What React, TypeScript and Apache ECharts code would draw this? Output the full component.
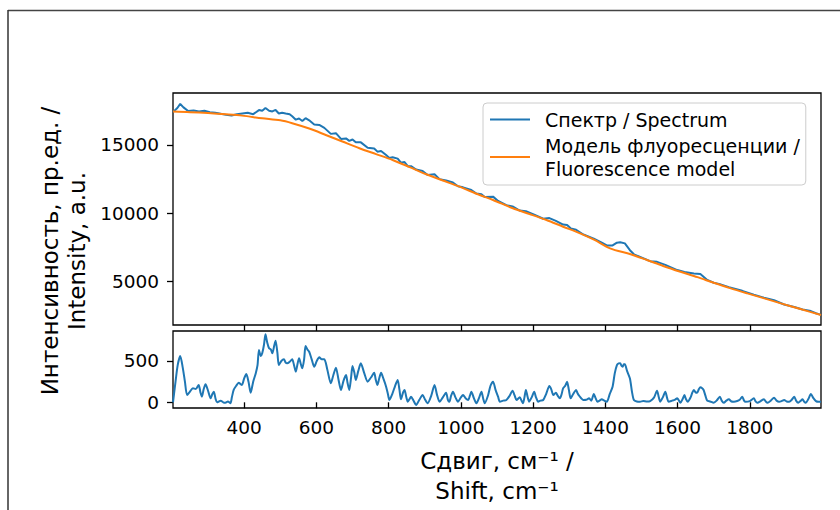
import React, { useEffect, useRef } from "react";
import * as echarts from "echarts";

// Top panel: measured spectrum
const spectrumShift = [203, 215, 223, 232, 245, 260, 275, 290, 305, 320, 335, 350, 365, 380, 395, 410, 425, 441, 450, 459, 469, 478, 487, 496, 505, 515, 526, 533, 543, 552, 561, 570, 580, 594, 608, 622, 640, 654, 668, 682, 691, 700, 709, 723, 742, 760, 769, 779, 793, 802, 811, 825, 834, 844, 853, 862, 876, 894, 908, 927, 941, 959, 978, 992, 1006, 1029, 1043, 1057, 1066, 1089, 1103, 1126, 1143, 1163, 1180, 1203, 1228, 1245, 1263, 1283, 1294, 1304, 1319, 1339, 1368, 1390, 1404, 1420, 1432, 1441, 1454, 1468, 1479, 1524, 1543, 1566, 1599, 1619, 1645, 1663, 1682, 1700, 1717, 1742, 1779, 1811, 1839, 1867, 1895, 1923, 1946, 1969, 1983, 1997];
const spectrumIntensity = [17400, 17700, 18000, 17750, 17480, 17520, 17450, 17500, 17400, 17350, 17280, 17200, 17150, 17250, 17300, 17350, 17250, 17550, 17500, 17700, 17500, 17450, 17560, 17300, 17350, 17300, 17250, 17100, 16850, 16930, 16750, 16960, 16800, 16490, 16460, 16250, 15810, 15860, 15440, 15480, 15300, 15400, 15200, 15190, 14790, 14740, 14510, 14560, 14260, 14050, 14100, 14000, 13700, 13750, 13450, 13450, 13200, 13100, 12800, 12850, 12500, 12400, 12250, 11980, 11900, 11700, 11450, 11400, 11200, 11220, 10900, 10600, 10500, 10200, 10150, 9900, 9600, 9650, 9450, 9180, 9150, 8900, 8800, 8450, 8150, 7850, 7650, 7650, 7850, 7880, 7800, 7300, 7000, 6500, 6450, 6230, 5850, 5710, 5600, 5560, 5130, 4920, 4820, 4600, 4330, 4040, 3830, 3640, 3330, 3150, 2960, 2850, 2690, 2570];

// Top panel: fluorescence model
const modelShift = [203, 250, 300, 350, 394, 450, 500, 533, 580, 626, 672, 719, 765, 811, 858, 904, 950, 996, 1052, 1089, 1144, 1190, 1237, 1283, 1330, 1370, 1413, 1470, 1515, 1560, 1608, 1655, 1700, 1745, 1793, 1840, 1886, 1940, 1997];
const modelIntensity = [17440, 17400, 17330, 17240, 17145, 16950, 16800, 16590, 16200, 15730, 15250, 14760, 14330, 13900, 13380, 12855, 12400, 11950, 11340, 10975, 10366, 9950, 9510, 9020, 8536, 8050, 7438, 7000, 6582, 6150, 5725, 5330, 4920, 4530, 4145, 3780, 3410, 3000, 2556];

// Bottom panel: residual (spectrum minus model)
const residualShift = [203, 210, 216, 223, 230, 236, 242, 250, 258, 266, 274, 279, 283, 288, 293, 300, 307, 312, 316, 321, 325, 335, 342, 348, 355, 362, 366, 371, 378, 385, 390, 394, 400, 406, 412, 418, 425, 432, 437, 441, 446, 450, 455, 459, 464, 469, 474, 478, 483, 487, 492, 496, 503, 510, 515, 519, 526, 533, 538, 543, 548, 552, 557, 561, 566, 570, 575, 580, 587, 594, 601, 608, 615, 622, 630, 640, 647, 654, 661, 668, 675, 682, 686, 691, 696, 700, 705, 709, 716, 723, 732, 742, 751, 760, 764, 769, 774, 779, 786, 793, 798, 802, 810, 818, 825, 830, 834, 840, 844, 849, 853, 858, 862, 869, 876, 885, 894, 900, 908, 918, 927, 934, 941, 950, 959, 964, 968, 973, 978, 985, 992, 1000, 1006, 1013, 1020, 1025, 1029, 1036, 1043, 1050, 1057, 1062, 1066, 1075, 1082, 1089, 1096, 1103, 1108, 1117, 1126, 1135, 1143, 1149, 1154, 1163, 1168, 1172, 1176, 1180, 1185, 1189, 1196, 1203, 1208, 1214, 1220, 1228, 1236, 1245, 1250, 1256, 1263, 1268, 1274, 1279, 1283, 1289, 1294, 1299, 1304, 1311, 1319, 1323, 1328, 1333, 1339, 1347, 1355, 1361, 1368, 1373, 1378, 1384, 1390, 1397, 1404, 1412, 1420, 1426, 1432, 1437, 1441, 1445, 1448, 1451, 1454, 1460, 1468, 1474, 1479, 1487, 1496, 1505, 1515, 1524, 1535, 1543, 1548, 1552, 1559, 1566, 1571, 1575, 1585, 1592, 1599, 1608, 1614, 1619, 1623, 1628, 1636, 1641, 1645, 1650, 1654, 1659, 1663, 1668, 1672, 1677, 1682, 1690, 1700, 1708, 1717, 1722, 1728, 1735, 1742, 1749, 1756, 1765, 1772, 1779, 1784, 1788, 1800, 1811, 1816, 1821, 1830, 1839, 1844, 1849, 1858, 1867, 1874, 1881, 1888, 1895, 1902, 1909, 1916, 1923, 1928, 1934, 1940, 1946, 1950, 1955, 1962, 1969, 1976, 1983, 1990, 1997];
const residualValue = [0, 250, 450, 560, 420, 250, 88, 130, 170, 160, 210, 120, 68, 160, 218, 140, 48, 100, 128, 40, 0, 20, 0, -5, 10, -10, 60, 150, 200, 237, 220, 210, 290, 342, 250, 116, 250, 350, 450, 633, 560, 593, 700, 823, 720, 653, 640, 593, 680, 745, 600, 451, 500, 520, 480, 472, 490, 520, 450, 370, 470, 532, 460, 411, 520, 681, 640, 612, 520, 431, 500, 544, 520, 520, 400, 230, 330, 419, 280, 149, 260, 330, 240, 149, 300, 439, 360, 270, 380, 472, 360, 250, 300, 358, 280, 210, 290, 358, 280, 189, 100, 28, 100, 200, 270, 150, 36, 120, 150, 60, 7, 40, 68, 20, -33, 30, 88, 40, -12, 80, 210, 90, 7, 60, 116, 30, 7, 80, 128, 60, 7, 60, 88, 50, 28, 80, 128, 50, -12, 50, 128, 40, -12, 80, 200, 250, 150, 68, 7, 20, 28, 80, 141, 80, 28, 60, 20, -12, 60, 149, 60, 7, 60, 128, 60, 7, 20, 28, 100, 197, 160, 88, 116, 80, 48, 100, 169, 200, 250, 150, 48, 100, 149, 110, 76, 50, 28, 30, 48, 20, 100, 50, 7, 20, 36, 20, 7, 100, 189, 350, 451, 470, 472, 440, 431, 460, 460, 380, 289, 120, 28, 10, 7, 15, 10, 15, 60, 141, 60, 7, 60, 128, 50, 7, 20, 30, 48, -5, 40, 88, 40, 7, 60, 120, 149, 120, 116, 160, 181, 170, 149, 80, 20, 10, -5, 20, 68, 20, -5, 20, 36, 10, 7, 15, 30, 68, 20, 7, 15, 48, 10, -5, 15, 36, 10, -5, 20, 56, 20, 7, 15, 28, 10, 7, 30, 68, 20, -5, 15, 36, 10, -5, 40, 100, 50, 15, 7, 7];

const xTicks = [400, 600, 800, 1000, 1200, 1400, 1600, 1800];
const topYTicks = [5000, 10000, 15000];
const bottomYTicks = [0, 500];

const seriesNames = ["Спектр / Spectrum", "Модель флуоресценции /\nFluorescence model"];
const xAxisTitle = "Сдвиг, см⁻¹ /\nShift, cm⁻¹";
const yAxisTitleLines = ["Интенсивность, пр.ед. /", "Intensity, a.u."];

const FONT = "DejaVu Sans";

export default function App() {
  const ref = useRef<HTMLDivElement>(null);

  useEffect(() => {
    if (!ref.current) return;
    const chart = echarts.init(ref.current, undefined, { renderer: "svg" });
    const zip = (xs: number[], ys: number[]) => xs.map((x, i) => [x, ys[i]]);

    const tickStyle = { show: true, inside: false, length: 6, lineStyle: { color: "#000", width: 1.3 } };
    const labelStyle = { color: "#000", fontFamily: FONT, fontSize: 18.5, formatter: (v: number) => String(v) };

    chart.setOption({
      animation: false,
      backgroundColor: "#fff",
      grid: [
        { left: 173, top: 93, right: 19, height: 232, show: true, borderColor: "#000", borderWidth: 1.3, backgroundColor: "transparent" },
        { left: 173, top: 331, right: 19, height: 77, show: true, borderColor: "#000", borderWidth: 1.3, backgroundColor: "transparent" },
      ],
      xAxis: [
        {
          type: "value", gridIndex: 0, min: 203, max: 1997,
          axisLine: { show: false }, splitLine: { show: false },
          axisTick: { ...tickStyle, customValues: xTicks },
          axisLabel: { show: false, customValues: xTicks },
        },
        {
          type: "value", gridIndex: 1, min: 203, max: 1997,
          axisLine: { show: false }, splitLine: { show: false },
          axisTick: { ...tickStyle, customValues: xTicks },
          axisLabel: { ...labelStyle, margin: 10, customValues: xTicks },
          name: xAxisTitle, nameLocation: "middle", nameGap: 38,
          nameTextStyle: { color: "#000", fontFamily: FONT, fontSize: 23, lineHeight: 30 },
        },
      ],
      yAxis: [
        {
          type: "value", gridIndex: 0, min: 1830, max: 18800,
          axisLine: { show: false }, splitLine: { show: false },
          axisTick: { ...tickStyle, customValues: topYTicks },
          axisLabel: { ...labelStyle, margin: 14, customValues: topYTicks },
        },
        {
          type: "value", gridIndex: 1, min: -69, max: 863,
          axisLine: { show: false }, splitLine: { show: false },
          axisTick: { ...tickStyle, customValues: bottomYTicks },
          axisLabel: { ...labelStyle, margin: 14, customValues: bottomYTicks },
        },
      ],
      legend: {
        data: seriesNames,
        orient: "vertical",
        left: 483,
        top: 103,
        padding: [5, 6, 5, 7],
        itemGap: 3,
        itemWidth: 40,
        itemHeight: 2,
        icon: "rect",
        backgroundColor: "rgba(255,255,255,0.8)",
        borderColor: "#cccccc",
        borderWidth: 1,
        borderRadius: 4,
        textStyle: { color: "#000", fontFamily: FONT, fontSize: 19, lineHeight: 23, padding: [0, 0, 0, 10] },
      },
      series: [
        {
          name: seriesNames[0], type: "line", xAxisIndex: 0, yAxisIndex: 0,
          data: zip(spectrumShift, spectrumIntensity), symbol: "none",
          lineStyle: { color: "#1f77b4", width: 2 }, itemStyle: { color: "#1f77b4" }, z: 2,
        },
        {
          name: seriesNames[1], type: "line", xAxisIndex: 0, yAxisIndex: 0,
          data: zip(modelShift, modelIntensity), symbol: "none", smooth: 0.3,
          lineStyle: { color: "#ff7f0e", width: 2 }, itemStyle: { color: "#ff7f0e" }, z: 3,
        },
        {
          name: "residual", type: "line", xAxisIndex: 1, yAxisIndex: 1,
          data: zip(residualShift, residualValue), symbol: "none", smooth: 0.25,
          lineStyle: { color: "#1f77b4", width: 2 }, itemStyle: { color: "#1f77b4" },
        },
      ],
      graphic: [
        { type: "line", shape: { x1: 8, y1: 10.5, x2: 840, y2: 10.5 }, style: { stroke: "#444", lineWidth: 1.5 }, silent: true },
        { type: "line", shape: { x1: 8, y1: 10, x2: 8, y2: 510 }, style: { stroke: "#333", lineWidth: 1.5 }, silent: true },
        {
          type: "text", x: 50, y: 251, rotation: Math.PI / 2,
          style: { text: yAxisTitleLines[0], fill: "#000", font: `23px '${FONT}'`, align: "center", verticalAlign: "middle" },
        },
        {
          type: "text", x: 77, y: 251, rotation: Math.PI / 2,
          style: { text: yAxisTitleLines[1], fill: "#000", font: `23px '${FONT}'`, align: "center", verticalAlign: "middle" },
        },
      ],
    });
    return () => chart.dispose();
  }, []);

  return <div ref={ref} style={{ position: "fixed", left: 0, top: 0, width: 840, height: 510 }} />;
}
